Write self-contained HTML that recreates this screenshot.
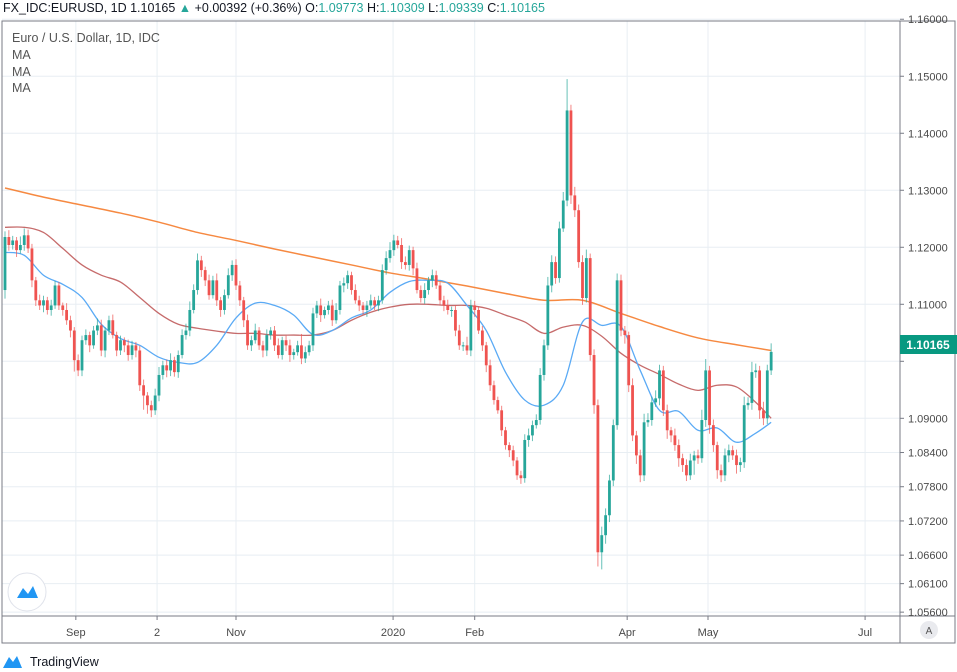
<!DOCTYPE html>
<html><head><meta charset="utf-8"><style>
html,body{margin:0;padding:0;background:#fff;width:957px;height:672px;overflow:hidden;font-family:"Liberation Sans",sans-serif}
svg{display:block}
</style></head><body>
<svg id="chart" width="957" height="672" viewBox="0 0 957 672">
<text x="3" y="12" font-size="12.5" fill="#131722"><tspan>FX_IDC:EURUSD, 1D  1.10165 </tspan><tspan fill="#26a69a">▲</tspan><tspan> +0.00392 (+0.36%) O:</tspan><tspan fill="#26a69a">1.09773</tspan><tspan> H:</tspan><tspan fill="#26a69a">1.10309</tspan><tspan> L:</tspan><tspan fill="#26a69a">1.09339</tspan><tspan> C:</tspan><tspan fill="#26a69a">1.10165</tspan></text>
<g id="grid"></g>
<g id="mas"></g>
<g id="candles"></g>
<rect x="2" y="21" width="953" height="622" fill="none" stroke="#787b86" stroke-width="1"/>
<line x1="900" y1="21" x2="900" y2="643" stroke="#787b86"/>
<line x1="2" y1="616" x2="955" y2="616" stroke="#787b86"/>
<g id="yaxis"></g>
<g id="xaxis"></g>
<g font-size="12.5" fill="#555">
<text x="12" y="42">Euro / U.S. Dollar, 1D, IDC</text>
<text x="12" y="59">MA</text>
<text x="12" y="76">MA</text>
<text x="12" y="92">MA</text>
</g>
<g>
<rect x="900" y="335" width="57" height="19" fill="#089981"/>
<text x="928" y="349" font-size="12" font-weight="bold" fill="#fff" text-anchor="middle">1.10165</text>
</g>
<g>
<circle cx="929" cy="630" r="9" fill="#e9eaee"/>
<text x="929" y="634" font-size="10" fill="#555" text-anchor="middle">A</text>
</g>
<g>
<circle cx="27" cy="592" r="19" fill="#fff" stroke="#e0e3eb"/>
<path d="M17 598 L23 588 L28 594 L33 586 L38 598 Z" fill="#2196f3"/>
</g>
<g>
<path d="M3 668 L9 657 L13 662 L17 656 L22 668 Z" fill="#2196f3"/>
<text x="30" y="666" font-size="12.5" fill="#131722">TradingView</text>
</g>
</svg>
<script>
const firstOpen = 1.1125;
const closes = [1.1218,1.1204,1.1212,1.1195,1.1204,1.1221,1.1198,1.1142,1.1107,1.1098,1.1107,1.1090,1.1098,1.1133,1.1098,1.1090,1.1072,1.1054,1.1002,1.0984,
1.1037,1.1046,1.1028,1.1054,1.1063,1.1019,1.1054,1.1072,1.1046,1.1019,1.1037,1.1028,1.1011,1.1028,1.1019,1.0958,1.0940,1.0923,1.0914,1.0940,
1.0976,1.0993,1.0984,1.1002,1.0981,1.1011,1.1046,1.1054,1.1090,1.1125,1.1177,1.1160,1.1142,1.1116,1.1142,1.1107,1.1090,1.1116,1.1151,1.1169,
1.1133,1.1107,1.1072,1.1028,1.1037,1.1054,1.1028,1.1019,1.1046,1.1054,1.1028,1.1011,1.1037,1.1028,1.1011,1.1016,1.1028,1.1005,1.1016,1.1028,
1.1084,1.1098,1.1081,1.1090,1.1098,1.1072,1.1090,1.1133,1.1137,1.1151,1.1125,1.1107,1.1098,1.1090,1.1098,1.1107,1.1098,1.1107,1.1160,1.1181,
1.1195,1.1212,1.1204,1.1174,1.1169,1.1195,1.1163,1.1125,1.1111,1.1125,1.1142,1.1151,1.1133,1.1107,1.1098,1.1090,1.1090,1.1054,1.1028,1.1028,
1.1019,1.1098,1.1090,1.1054,1.1028,1.0993,1.0958,1.0932,1.0914,1.0879,1.0853,1.0844,1.0826,1.0800,1.0795,1.0862,1.0870,1.0888,1.0897,1.0976,
1.1028,1.1133,1.1174,1.1146,1.1233,1.1282,1.1440,1.1291,1.1265,1.1174,1.1111,1.1181,1.1011,1.0923,1.0665,1.0695,1.0730,1.0791,1.0888,1.1142,
1.1054,1.1046,1.0958,1.0870,1.0835,1.0800,1.0893,1.0897,1.0928,1.0935,1.0984,1.0914,1.0879,1.0870,1.0853,1.0830,1.0818,1.0800,1.0826,1.0835,
1.0830,1.0897,1.0984,1.0888,1.0853,1.0809,1.0800,1.0835,1.0844,1.0835,1.0818,1.0823,1.0923,1.0927,1.0981,1.0984,1.0914,1.0900,1.0984,1.10165];
const upWickPips = [10,12,8,6,15,12,10,8,6,10,8,6,10,8,6,5,12,8,6,10,
8,10,6,8,12,10,6,8,10,6,8,5,10,8,6,8,10,6,8,12,
14,8,10,12,6,8,10,12,15,10,12,8,6,10,8,12,6,10,12,8,
10,8,6,10,8,12,6,8,10,6,8,12,6,8,10,6,8,20,10,8,
10,8,12,6,8,10,12,8,10,8,6,10,8,6,8,10,6,8,10,12,
14,10,8,12,10,8,6,10,8,12,6,10,8,6,8,10,6,8,10,6,
15,10,8,6,8,6,10,8,6,8,6,5,8,6,8,10,12,8,10,12,
10,15,12,10,12,15,55,10,15,10,12,15,8,10,10,15,12,10,10,12,
10,8,6,12,8,10,15,12,10,14,10,8,10,6,12,10,8,10,12,8,
10,18,20,8,10,6,10,12,10,8,10,8,15,10,18,12,8,15,10,15];
const downWickPips = [15,10,8,12,6,10,8,12,10,8,12,8,10,6,8,10,8,12,20,10,
10,8,12,6,8,10,12,8,6,10,8,12,10,8,12,10,25,15,12,8,
10,8,12,10,8,10,6,8,10,6,8,12,10,8,6,10,12,8,6,10,
8,10,12,8,10,6,8,12,10,8,10,6,8,10,12,8,6,10,8,6,
10,8,12,6,8,10,6,8,12,10,8,6,10,8,12,6,8,10,6,8,
8,10,6,12,8,10,12,6,8,10,8,12,6,8,10,8,12,10,8,10,
8,10,12,6,10,12,10,8,6,10,8,12,10,8,10,8,12,10,6,8,
10,8,12,10,8,6,10,15,12,10,12,8,10,15,25,30,15,12,10,8,
10,15,12,10,15,12,10,8,10,8,12,10,15,12,10,15,12,10,8,25,
10,8,12,15,12,15,12,10,12,8,15,12,10,8,12,10,15,12,10,8];
// moving averages sampled at candle indices
const maFastIdx = [0,5,10,15,20,25,30,35,40,45,50,55,60,65,70,75,80,85,90,95,100,105,110,115,120,125,130,135,140,145,150,155,160,165,170,175,180,185,190,195,199];
const maFast = [1.1191,1.1186,1.1151,1.1135,1.1112,1.1065,1.1040,1.1028,1.1007,1.0998,1.0998,1.1028,1.1076,1.1102,1.1098,1.1081,1.1047,1.1054,1.1076,1.1090,1.1121,1.1140,1.1142,1.1137,1.1098,1.1054,1.0981,1.0932,1.0923,1.0958,1.1069,1.1063,1.1061,1.0984,1.0914,1.0912,1.0879,1.0883,1.0858,1.0874,1.0893];
const maMid = [1.1235,1.1235,1.1226,1.1198,1.1169,1.1151,1.1139,1.1112,1.1084,1.1065,1.1058,1.1053,1.1049,1.1049,1.1046,1.1046,1.1046,1.1054,1.1072,1.1086,1.1095,1.1100,1.1100,1.1098,1.1098,1.1093,1.1081,1.1069,1.1049,1.1060,1.1063,1.1044,1.1014,1.0993,1.0977,1.0960,1.0949,1.0958,1.0955,1.0928,1.0900];
const maSlowIdx = [0,10,20,30,40,50,60,70,80,90,100,110,120,130,140,150,160,170,180,190,199];
const maSlow = [1.1304,1.1288,1.1274,1.1260,1.1244,1.1226,1.1212,1.1197,1.1183,1.1169,1.1155,1.1144,1.1132,1.1119,1.1107,1.1107,1.1084,1.1061,1.1041,1.1029,1.1019];
const yTicks = [1.16,1.15,1.14,1.13,1.12,1.11,1.10,1.09,1.084,1.078,1.072,1.066,1.061,1.056];
const xTickLabels = ["Sep","2","Nov","2020","Feb","Apr","May","Jul"];
const xTickIdx = [18.4,39.5,60,100.8,122,161.6,182.6,223.4];

const NS="http://www.w3.org/2000/svg";
const X0=5, STEP=3.85;
function xs(i){return X0+i*STEP;}
function ys(p){return 6632.4-5701*p;}
function mk(tag,attrs,parent){const e=document.createElementNS(NS,tag);for(const k in attrs)e.setAttribute(k,attrs[k]);parent.appendChild(e);return e;}

const grid=document.getElementById('grid'), yaxis=document.getElementById('yaxis'), xaxis=document.getElementById('xaxis');
yTicks.forEach(v=>{
  const y=ys(v);
  const gl=mk('line',{x1:2,x2:900,y1:y,y2:y,stroke:'#e8eef3','stroke-width':1},grid);
  
  
  const tk=mk('line',{x1:900,x2:904,y1:y,y2:y,stroke:'#787b86'},yaxis);
  
  
  if(v===1.10) return;
  const t=mk('text',{x:908,y:y+4,'font-size':11,fill:'#4a4a4a'},yaxis);
  t.textContent=v.toFixed(5);
  
  
});
xTickIdx.forEach((ix,k)=>{
  const x=xs(ix);
  const gl=mk('line',{x1:x,x2:x,y1:21,y2:616,stroke:'#e8eef3','stroke-width':1},grid);
  
  
  const tk=mk('line',{x1:x,x2:x,y1:616,y2:620,stroke:'#787b86'},xaxis);
  
  
  const t=mk('text',{x:x,y:636,'font-size':11,fill:'#4a4a4a','text-anchor':'middle'},xaxis);
  t.textContent=xTickLabels[k];
  
  
});

function smooth(idx,vals){
  const pts=idx.map((i,k)=>[xs(i),ys(vals[k])]);
  let d='M'+pts[0][0]+' '+pts[0][1];
  for(let k=0;k<pts.length-1;k++){
    const p0=pts[Math.max(k-1,0)],p1=pts[k],p2=pts[k+1],p3=pts[Math.min(k+2,pts.length-1)];
    const c1=[p1[0]+(p2[0]-p0[0])/6,p1[1]+(p2[1]-p0[1])/6];
    const c2=[p2[0]-(p3[0]-p1[0])/6,p2[1]-(p3[1]-p1[1])/6];
    d+=' C'+c1[0]+' '+c1[1]+' '+c2[0]+' '+c2[1]+' '+p2[0]+' '+p2[1];
  }
  return d;
}
const mas=document.getElementById('mas');
const l3=mk('path',{d:smooth(maSlowIdx,maSlow),fill:'none',stroke:'#f57c2c','stroke-width':1.5,opacity:0.9},mas);


const l2=mk('path',{d:smooth(maFastIdx,maMid),fill:'none',stroke:'#b33a3a','stroke-width':1.3,opacity:0.75},mas);


const l1=mk('path',{d:smooth(maFastIdx,maFast),fill:'none',stroke:'#5aaaf5','stroke-width':1.3},mas);



const cg=document.getElementById('candles');
closes.forEach((c,i)=>{
  const o=i===0?firstOpen:closes[i-1];
  const hi=Math.max(o,c)+upWickPips[i]*0.0001;
  const lo=Math.min(o,c)-downWickPips[i]*0.0001;
  const up=c>=o, col=up?'#26a69a':'#ef5350';
  const x=xs(i);
  const g=mk('g',{},cg);
  
  
  mk('line',{x1:x,x2:x,y1:ys(hi),y2:ys(lo),stroke:col,'stroke-width':1,opacity:0.7},g);
  const top=ys(Math.max(o,c)), h=Math.max(1,ys(Math.min(o,c))-top);
  mk('rect',{x:x-1.4,y:top,width:2.8,height:h,fill:col},g);
});
</script>
</body></html>
